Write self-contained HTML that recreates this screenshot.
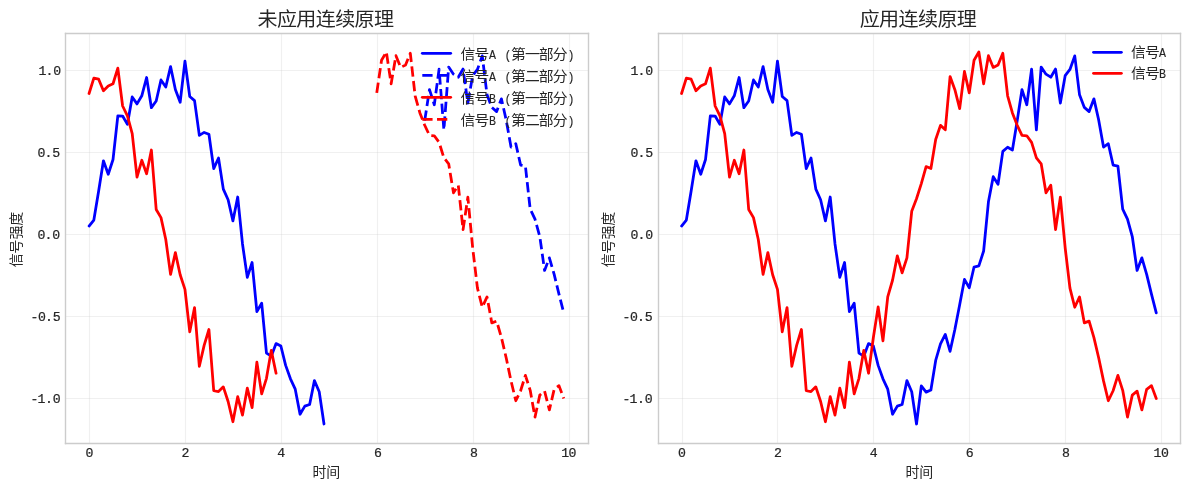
<!DOCTYPE html>
<html lang="zh-CN">
<head>
<meta charset="utf-8">
<title>连续原理 信号对比</title>
<style>
html,body{margin:0;padding:0;background:#fff;}
body{width:1189px;height:490px;overflow:hidden;}
svg{display:block;}
text{fill:#262626;white-space:pre;}
.title{font-family:"Liberation Sans", "Noto Sans CJK SC", sans-serif;font-size:19px;}
.lab{font-family:"Liberation Sans", "Noto Sans CJK SC", sans-serif;font-size:13.9px;}
.leg{font-family:"Liberation Sans", "Noto Sans CJK SC", sans-serif;font-size:14.1px;}
.lat{font-family:"Liberation Mono", "Noto Sans CJK SC", monospace;font-size:12.5px;}
.tick{font-family:"Liberation Mono", "Noto Sans CJK SC", monospace;font-size:12px;}
.tick{stroke:#262626;stroke-width:0.2px;}
.lat{stroke:#262626;stroke-width:0.1px;}
.grid line{stroke:#cccccc;stroke-opacity:0.3;stroke-width:1.11;}
.spine line{stroke:#cccccc;stroke-width:1.389;stroke-linecap:square;}
.ln{fill:none;stroke-width:2.778;stroke-linejoin:round;stroke-linecap:round;}
.ln.dash{stroke-dasharray:10.278 4.444;stroke-linecap:butt;}
.b{stroke:#0000ff;}
.r{stroke:#ff0000;}
</style>
</head>
<body>
<svg width="1189" height="490" viewBox="0 0 1189 490">
<rect width="1189" height="490" fill="#ffffff"/>
<g class="ax" id="ax1">
<g class="grid">
<line x1="89.5" y1="33.5" x2="89.5" y2="443.5"/>
<line x1="185.5" y1="33.5" x2="185.5" y2="443.5"/>
<line x1="281.5" y1="33.5" x2="281.5" y2="443.5"/>
<line x1="377.5" y1="33.5" x2="377.5" y2="443.5"/>
<line x1="473.5" y1="33.5" x2="473.5" y2="443.5"/>
<line x1="569.5" y1="33.5" x2="569.5" y2="443.5"/>
<line x1="65.5" y1="398.5" x2="588.5" y2="398.5"/>
<line x1="65.5" y1="316.5" x2="588.5" y2="316.5"/>
<line x1="65.5" y1="234.5" x2="588.5" y2="234.5"/>
<line x1="65.5" y1="152.5" x2="588.5" y2="152.5"/>
<line x1="65.5" y1="70.5" x2="588.5" y2="70.5"/>
</g>
<clipPath id="clip1"><rect x="65.32" y="33.33" width="522.18" height="409.25"/></clipPath>
<g class="data" clip-path="url(#clip1)">
<polyline class="ln b" points="89.06,226.02 93.85,220.07 98.65,191 103.44,160.8 108.24,174.2 113.03,159.46 117.83,115.79 122.62,116.06 127.42,124.34 132.21,96.95 137.01,103.91 141.8,95.8 146.6,77.51 151.39,107.66 156.19,100.99 160.98,79.97 165.78,87.01 170.57,66.56 175.37,89.5 180.16,102.28 184.96,61.19 189.75,96.45 194.55,100.61 199.34,135.34 204.14,132.43 208.93,134.3 213.73,168.57 218.52,157.99 223.32,189.12 228.11,199.74 232.91,220.9 237.7,197 242.5,243.94 247.29,277.33 252.09,262.54 256.88,311.62 261.68,303.23 266.47,353.05 271.27,356.15 276.06,343.6 280.86,346.04 285.65,365.4 290.45,378.83 295.24,389.17 300.04,414.26 304.83,406.08 309.63,404.48 314.42,380.64 319.22,391.71 324.01,423.98"/>
<polyline class="ln b dash" points="424.71,120.62 429.5,89.55 434.3,104.73 439.09,69.21 443.89,129.85 448.68,67.04 453.48,74.17 458.27,77.18 463.07,69.08 467.86,103.08 472.66,75.69 477.45,69.43 482.25,55.84 487.04,94.86 491.84,107.41 496.63,111.58 501.43,98.86 506.22,120.17 511.02,147.02 515.81,143.68 520.61,165.06 525.4,166.02 530.2,209.15 534.99,219.14 539.79,236.52 544.58,270.44 549.38,257.86 554.17,274.4 558.97,294.11 563.76,312.95"/>
<polyline class="ln r" points="89.06,93.53 93.85,78.05 98.65,79.22 103.44,90.8 108.24,85.92 113.03,83.78 117.83,68.06 122.62,106.01 127.42,115.81 132.21,133.55 137.01,177.08 141.8,160.29 146.6,173.81 151.39,149.99 156.19,209.47 160.98,217.63 165.78,239.51 170.57,274.41 175.37,252.66 180.16,274.8 184.96,289.37 189.75,331.76 194.55,307.58 199.34,366.27 204.14,345.34 208.93,329.51 213.73,390.75 218.52,391.53 223.32,386.87 228.11,401.46 232.91,421.73 237.7,396.71 242.5,415.09 247.29,388.16 252.09,407.59 256.88,362.17 261.68,393.89 266.47,378.36 271.27,350.4 276.06,373.24"/>
<polyline class="ln r dash" points="376.76,92.84 381.55,60.19 386.35,51.93 391.14,83.81 395.94,55.68 400.73,67.42 405.53,65.03 410.32,53.3 415.12,95.76 419.91,112.88 424.71,125.23 429.5,135.38 434.3,135.77 439.09,142.39 443.89,157.79 448.68,163.82 453.48,192.79 458.27,185.22 463.07,229.66 467.86,197.13 472.66,247.74 477.45,288.1 482.25,307.26 487.04,296.92 491.84,322.89 496.63,321.08 501.43,337.59 506.22,357.99 511.02,380.9 515.81,400.74 520.61,390.73 525.4,375.38 530.2,390.34 534.99,417.1 539.79,395.08 544.58,391.2 549.38,409.94 554.17,389.29 558.97,385.62 563.76,398.54"/>
</g>
<g class="spine">
<line x1="65.5" y1="443.5" x2="65.5" y2="33.5"/>
<line x1="588.5" y1="443.5" x2="588.5" y2="33.5"/>
<line x1="65.5" y1="443.5" x2="588.5" y2="443.5"/>
<line x1="65.5" y1="33.5" x2="588.5" y2="33.5"/>
</g>
<g class="ticks">
<text class="tick" transform="translate(85.49,457) scale(1.1,1)" x="0">0</text>
<text class="tick" transform="translate(181.4,457) scale(1.1,1)" x="0">2</text>
<text class="tick" transform="translate(277.3,457) scale(1.1,1)" x="0">4</text>
<text class="tick" transform="translate(373.9,457) scale(1.1,1)" x="0">6</text>
<text class="tick" transform="translate(470,457) scale(1.1,1)" x="0">8</text>
<text class="tick" transform="translate(561.22,457) scale(1.1,1)" x="0 6.69">10</text>
<text class="tick" transform="translate(30.68,403) scale(1.1,1)" x="-0.18 6.15 13.11 20.07">-1.0</text>
<text class="tick" transform="translate(30.68,321) scale(1.1,1)" x="-0.18 6.69 13.11 20.07">-0.5</text>
<text class="tick" transform="translate(37.44,239) scale(1.1,1)" x="0 6.42 13.38">0.0</text>
<text class="tick" transform="translate(37.44,157) scale(1.1,1)" x="0 6.42 13.38">0.5</text>
<text class="tick" transform="translate(38.44,75) scale(1.1,1)" x="0 6.42 13.38">1.0</text>
</g>
<text class="title" transform="translate(257.47,26) scale(1.055,1)" letter-spacing="-0.5735">未应用连续原理</text>
<text class="lab" transform="translate(312.48,477) scale(1.005,1)" letter-spacing="-0.0791">时间</text>
<text class="lab" transform="translate(21,239.55) rotate(-90) translate(-27.82,0) scale(1.005,1)" letter-spacing="-0.0791">信号强度</text>
<g class="legend">
<line class="ln b" x1="422.3" y1="53.35" x2="450.7" y2="53.35"/>
<text y="59"><tspan class="leg" x="460.54" textLength="27.78" lengthAdjust="spacingAndGlyphs" letter-spacing="-0.8714">信号</tspan><tspan class="lat" x="489.12" textLength="6.98" lengthAdjust="spacingAndGlyphs">A</tspan><tspan class="lat"> </tspan><tspan class="lat" x="504.44" textLength="6.98" lengthAdjust="spacingAndGlyphs">(</tspan><tspan class="leg" x="511.1" textLength="55.56" lengthAdjust="spacingAndGlyphs" letter-spacing="-0.8714">第一部分</tspan><tspan class="lat" x="567.46" textLength="6.98" lengthAdjust="spacingAndGlyphs">)</tspan></text>
<line class="ln b dash" x1="422.3" y1="75.35" x2="450.7" y2="75.35"/>
<text y="81"><tspan class="leg" x="460.54" textLength="27.78" lengthAdjust="spacingAndGlyphs" letter-spacing="-0.8714">信号</tspan><tspan class="lat" x="489.12" textLength="6.98" lengthAdjust="spacingAndGlyphs">A</tspan><tspan class="lat"> </tspan><tspan class="lat" x="504.44" textLength="6.98" lengthAdjust="spacingAndGlyphs">(</tspan><tspan class="leg" x="511.1" textLength="55.56" lengthAdjust="spacingAndGlyphs" letter-spacing="-0.8714">第二部分</tspan><tspan class="lat" x="567.46" textLength="6.98" lengthAdjust="spacingAndGlyphs">)</tspan></text>
<line class="ln r" x1="422.3" y1="97.35" x2="450.7" y2="97.35"/>
<text y="103"><tspan class="leg" x="460.54" textLength="27.78" lengthAdjust="spacingAndGlyphs" letter-spacing="-0.8714">信号</tspan><tspan class="lat" x="489.12" textLength="6.98" lengthAdjust="spacingAndGlyphs">B</tspan><tspan class="lat"> </tspan><tspan class="lat" x="504.44" textLength="6.98" lengthAdjust="spacingAndGlyphs">(</tspan><tspan class="leg" x="511.1" textLength="55.56" lengthAdjust="spacingAndGlyphs" letter-spacing="-0.8714">第一部分</tspan><tspan class="lat" x="567.46" textLength="6.98" lengthAdjust="spacingAndGlyphs">)</tspan></text>
<line class="ln r dash" x1="422.3" y1="119.35" x2="450.7" y2="119.35"/>
<text y="125"><tspan class="leg" x="460.54" textLength="27.78" lengthAdjust="spacingAndGlyphs" letter-spacing="-0.8714">信号</tspan><tspan class="lat" x="489.12" textLength="6.98" lengthAdjust="spacingAndGlyphs">B</tspan><tspan class="lat"> </tspan><tspan class="lat" x="504.44" textLength="6.98" lengthAdjust="spacingAndGlyphs">(</tspan><tspan class="leg" x="511.1" textLength="55.56" lengthAdjust="spacingAndGlyphs" letter-spacing="-0.8714">第二部分</tspan><tspan class="lat" x="567.46" textLength="6.98" lengthAdjust="spacingAndGlyphs">)</tspan></text>
</g>
</g>
<g class="ax" id="ax2">
<g class="grid">
<line x1="682.5" y1="33.5" x2="682.5" y2="443.5"/>
<line x1="777.5" y1="33.5" x2="777.5" y2="443.5"/>
<line x1="873.5" y1="33.5" x2="873.5" y2="443.5"/>
<line x1="969.5" y1="33.5" x2="969.5" y2="443.5"/>
<line x1="1065.5" y1="33.5" x2="1065.5" y2="443.5"/>
<line x1="1161.5" y1="33.5" x2="1161.5" y2="443.5"/>
<line x1="658.5" y1="398.5" x2="1180.5" y2="398.5"/>
<line x1="658.5" y1="316.5" x2="1180.5" y2="316.5"/>
<line x1="658.5" y1="234.5" x2="1180.5" y2="234.5"/>
<line x1="658.5" y1="152.5" x2="1180.5" y2="152.5"/>
<line x1="658.5" y1="70.5" x2="1180.5" y2="70.5"/>
</g>
<clipPath id="clip2"><rect x="657.82" y="33.33" width="522.18" height="409.25"/></clipPath>
<g class="data" clip-path="url(#clip2)">
<polyline class="ln b" points="681.56,226.02 686.35,220.07 691.15,191 695.94,160.8 700.74,174.2 705.53,159.46 710.33,115.79 715.12,116.06 719.92,124.34 724.71,96.95 729.51,103.91 734.3,95.8 739.1,77.51 743.89,107.66 748.69,100.99 753.48,79.97 758.28,87.01 763.07,66.56 767.87,89.5 772.66,102.28 777.46,61.19 782.25,96.45 787.05,100.61 791.84,135.34 796.64,132.43 801.43,134.3 806.23,168.57 811.02,157.99 815.82,189.12 820.61,199.74 825.41,220.9 830.2,197 835,243.94 839.79,277.33 844.59,262.54 849.38,311.62 854.18,303.23 858.97,353.05 863.77,356.15 868.56,343.6 873.36,346.04 878.15,365.4 882.95,378.83 887.74,389.17 892.54,414.26 897.33,406.08 902.13,404.48 906.92,380.64 911.72,391.71 916.51,423.98 921.31,385.93 926.1,392.13 930.9,389.97 935.69,360.47 940.49,343.86 945.28,334.48 950.08,351.32 954.87,329.43 959.67,304.84 964.46,279.42 969.26,287.78 974.05,267.04 978.85,265.89 983.64,251 988.44,201.76 993.23,176.7 998.03,184.3 1002.82,151.4 1007.62,147.29 1012.41,149.97 1017.21,120.62 1022,89.55 1026.8,104.73 1031.59,69.21 1036.39,129.85 1041.18,67.04 1045.98,74.17 1050.77,77.18 1055.57,69.08 1060.36,103.08 1065.16,75.69 1069.95,69.43 1074.75,55.84 1079.54,94.86 1084.34,107.41 1089.13,111.58 1093.93,98.86 1098.72,120.17 1103.52,147.02 1108.31,143.68 1113.11,165.06 1117.9,166.02 1122.7,209.15 1127.49,219.14 1132.29,236.52 1137.08,270.44 1141.88,257.86 1146.67,274.4 1151.47,294.11 1156.26,312.95"/>
<polyline class="ln r" points="681.56,93.53 686.35,78.05 691.15,79.22 695.94,90.8 700.74,85.92 705.53,83.78 710.33,68.06 715.12,106.01 719.92,115.81 724.71,133.55 729.51,177.08 734.3,160.29 739.1,173.81 743.89,149.99 748.69,209.47 753.48,217.63 758.28,239.51 763.07,274.41 767.87,252.66 772.66,274.8 777.46,289.37 782.25,331.76 787.05,307.58 791.84,366.27 796.64,345.34 801.43,329.51 806.23,390.75 811.02,391.53 815.82,386.87 820.61,401.46 825.41,421.73 830.2,396.71 835,415.09 839.79,388.16 844.59,407.59 849.38,362.17 854.18,393.89 858.97,378.36 863.77,350.4 868.56,373.24 873.36,337.51 878.15,306.91 882.95,340.8 887.74,296.79 892.54,280.25 897.33,255.88 902.13,272.79 906.92,257.82 911.72,211.27 916.51,198.74 921.31,183.59 926.1,166.57 930.9,168.55 935.69,139.54 940.49,125.39 945.28,129.77 950.08,76.55 954.87,89.66 959.67,108.61 964.46,71.47 969.26,92.84 974.05,60.19 978.85,51.93 983.64,83.81 988.44,55.68 993.23,67.42 998.03,65.03 1002.82,53.3 1007.62,95.76 1012.41,112.88 1017.21,125.23 1022,135.38 1026.8,135.77 1031.59,142.39 1036.39,157.79 1041.18,163.82 1045.98,192.79 1050.77,185.22 1055.57,229.66 1060.36,197.13 1065.16,247.74 1069.95,288.1 1074.75,307.26 1079.54,296.92 1084.34,322.89 1089.13,321.08 1093.93,337.59 1098.72,357.99 1103.52,380.9 1108.31,400.74 1113.11,390.73 1117.9,375.38 1122.7,390.34 1127.49,417.1 1132.29,395.08 1137.08,391.2 1141.88,409.94 1146.67,389.29 1151.47,385.62 1156.26,398.54"/>
</g>
<g class="spine">
<line x1="658.5" y1="443.5" x2="658.5" y2="33.5"/>
<line x1="1180.5" y1="443.5" x2="1180.5" y2="33.5"/>
<line x1="658.5" y1="443.5" x2="1180.5" y2="443.5"/>
<line x1="658.5" y1="33.5" x2="1180.5" y2="33.5"/>
</g>
<g class="ticks">
<text class="tick" transform="translate(677.99,457) scale(1.1,1)" x="0">0</text>
<text class="tick" transform="translate(773.9,457) scale(1.1,1)" x="0">2</text>
<text class="tick" transform="translate(869.8,457) scale(1.1,1)" x="0">4</text>
<text class="tick" transform="translate(965.7,457) scale(1.1,1)" x="0">6</text>
<text class="tick" transform="translate(1062.1,457) scale(1.1,1)" x="0">8</text>
<text class="tick" transform="translate(1153.62,457) scale(1.1,1)" x="0 6.69">10</text>
<text class="tick" transform="translate(622.68,403) scale(1.1,1)" x="-0.18 6.15 13.11 20.07">-1.0</text>
<text class="tick" transform="translate(622.68,321) scale(1.1,1)" x="-0.18 6.69 13.11 20.07">-0.5</text>
<text class="tick" transform="translate(630.44,239) scale(1.1,1)" x="0 6.42 13.38">0.0</text>
<text class="tick" transform="translate(630.44,157) scale(1.1,1)" x="0 6.42 13.38">0.5</text>
<text class="tick" transform="translate(630.44,75) scale(1.1,1)" x="0 6.42 13.38">1.0</text>
</g>
<text class="title" transform="translate(859.69,26) scale(1.055,1)" letter-spacing="-0.5735">应用连续原理</text>
<text class="lab" transform="translate(905.48,477) scale(1.005,1)" letter-spacing="-0.0791">时间</text>
<text class="lab" transform="translate(613,239.55) rotate(-90) translate(-27.82,0) scale(1.005,1)" letter-spacing="-0.0791">信号强度</text>
<g class="legend">
<line class="ln b" x1="1093.5" y1="52.3" x2="1121.4" y2="52.3"/>
<text y="57"><tspan class="leg" x="1131.14" textLength="27.78" lengthAdjust="spacingAndGlyphs" letter-spacing="-0.8714">信号</tspan><tspan class="lat" x="1159.12" textLength="6.98" lengthAdjust="spacingAndGlyphs">A</tspan></text>
<line class="ln r" x1="1093.5" y1="73.3" x2="1121.4" y2="73.3"/>
<text y="78"><tspan class="leg" x="1131.14" textLength="27.78" lengthAdjust="spacingAndGlyphs" letter-spacing="-0.8714">信号</tspan><tspan class="lat" x="1159.12" textLength="6.98" lengthAdjust="spacingAndGlyphs">B</tspan></text>
</g>
</g>
</svg>
</body>
</html>
